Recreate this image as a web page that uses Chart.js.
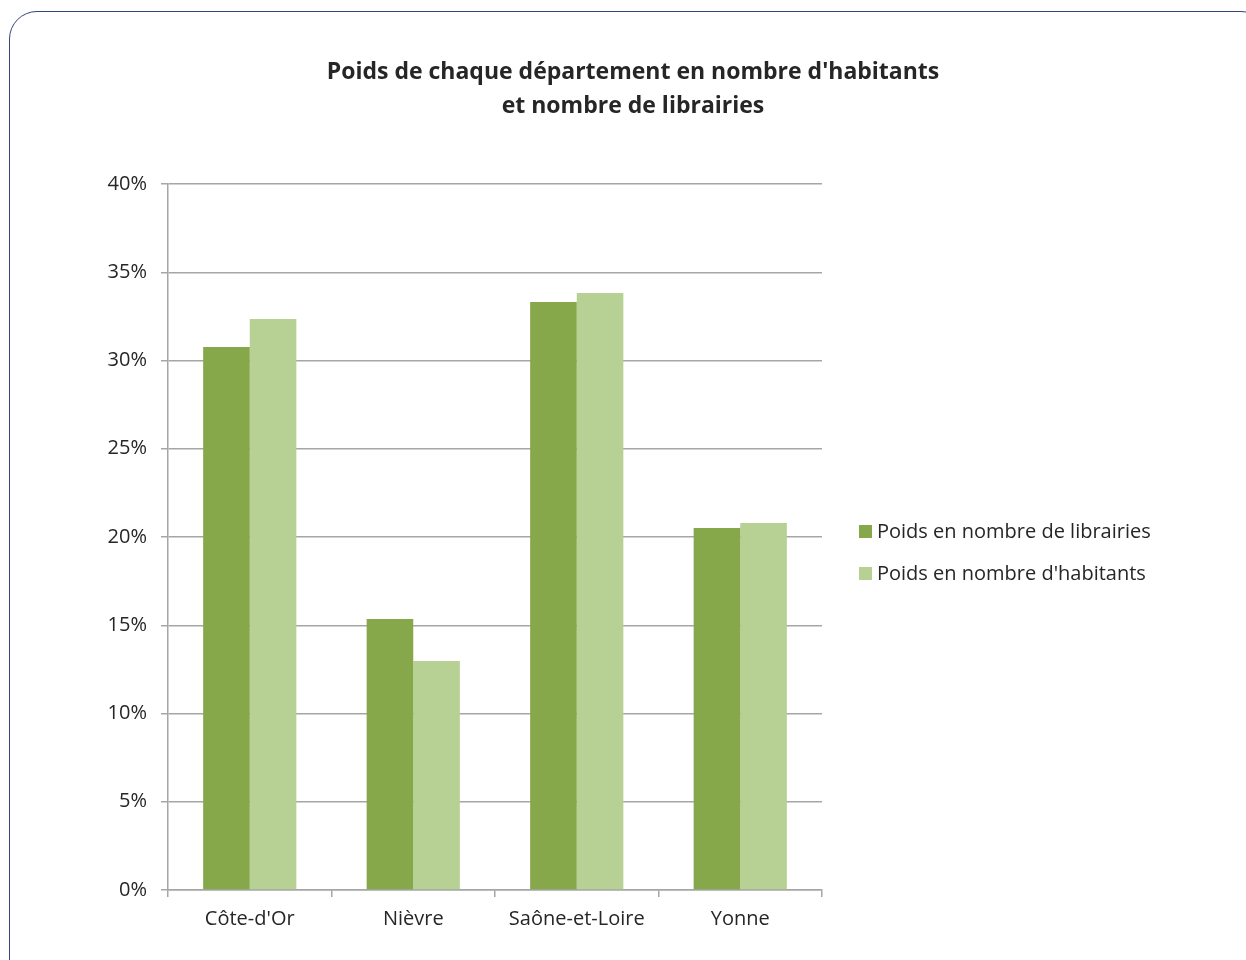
<!DOCTYPE html>
<html lang="fr">
<head>
<meta charset="utf-8">
<title>Poids de chaque département</title>
<script src="https://cdn.jsdelivr.net/npm/chart.js@4.4.1/dist/chart.umd.min.js"></script>
<style>
    html, body { margin: 0; padding: 0; background: #fff; overflow: hidden; }
    #wrap { position: relative; width: 1246px; height: 960px; }
    #frame {
        position: absolute; left: 9px; top: 11px; width: 1260px; height: 990px;
        border: 1.5px solid #34447c; border-radius: 28px; box-sizing: border-box;
    }
    canvas { position: absolute; left: 0; top: 0; }
</style>
</head>
<body>
<div id="wrap">
    <div id="frame"></div>
    <canvas id="deptChart" width="1246" height="960"></canvas>
</div>
<script>
const departements = ['Côte-d\'Or', 'Nièvre', 'Saône-et-Loire', 'Yonne'];
const poidsLibrairies = [30.76, 15.35, 33.31, 20.51];
const poidsHabitants = [32.35, 12.97, 33.82, 20.79];
const titleLines = ['Poids de chaque département en nombre d\'habitants', 'et nombre de librairies'];

const FONT = '"Open Sans", "Noto Sans", sans-serif';
const TEXT = '#262626';
const GRID = '#a6a6a6';

// title and legend sit outside the plot area, drawn by hand
const sideText = {
    id: 'sideText',
    afterDraw(chart) {
        const ctx = chart.ctx;
        ctx.save();
        ctx.fillStyle = TEXT;
        ctx.textAlign = 'center';
        ctx.textBaseline = 'middle';
        ctx.font = 'bold 23px ' + FONT;
        titleLines.forEach((line, i) => ctx.fillText(line, 633, 72 + i * 34));

        ctx.textAlign = 'left';
        ctx.font = '20px ' + FONT;
        chart.data.datasets.forEach((ds, i) => {
            const y = 532 + i * 42;
            ctx.fillStyle = ds.backgroundColor;
            ctx.fillRect(859, y - 7, 13, 13);
            ctx.fillStyle = TEXT;
            ctx.fillText(ds.label, 877, y);
        });
        ctx.restore();
    }
};

new Chart(document.getElementById('deptChart'), {
    type: 'bar',
    data: {
        labels: departements,
        datasets: [
            {
                label: 'Poids en nombre de librairies',
                data: poidsLibrairies,
                backgroundColor: '#86a74a'
            },
            {
                label: 'Poids en nombre d\'habitants',
                data: poidsHabitants,
                backgroundColor: '#b7d194'
            }
        ]
    },
    options: {
        responsive: false,
        animation: false,
        categoryPercentage: 0.57,
        barPercentage: 1,
        layout: { padding: { top: 184, right: 424, bottom: 0, left: 0 } },
        plugins: {
            legend: { display: false },
            title: { display: false },
            tooltip: { enabled: false }
        },
        scales: {
            x: {
                afterFit(scale) { scale.height = 70; },
                grid: { drawOnChartArea: false, color: GRID, lineWidth: 1.5, tickLength: 7 },
                border: { color: GRID, width: 1.5 },
                ticks: { color: TEXT, font: { family: FONT, size: 20 }, padding: 10 }
            },
            y: {
                min: 0,
                max: 40,
                afterFit(scale) { scale.width = 168; },
                grid: { color: GRID, lineWidth: 1.5, tickLength: 7 },
                border: { color: GRID, width: 1.5 },
                ticks: {
                    stepSize: 5,
                    color: TEXT,
                    font: { family: FONT, size: 20 },
                    padding: 14,
                    callback: v => v + '%'
                }
            }
        }
    },
    plugins: [sideText]
});
</script>
</body>
</html>
